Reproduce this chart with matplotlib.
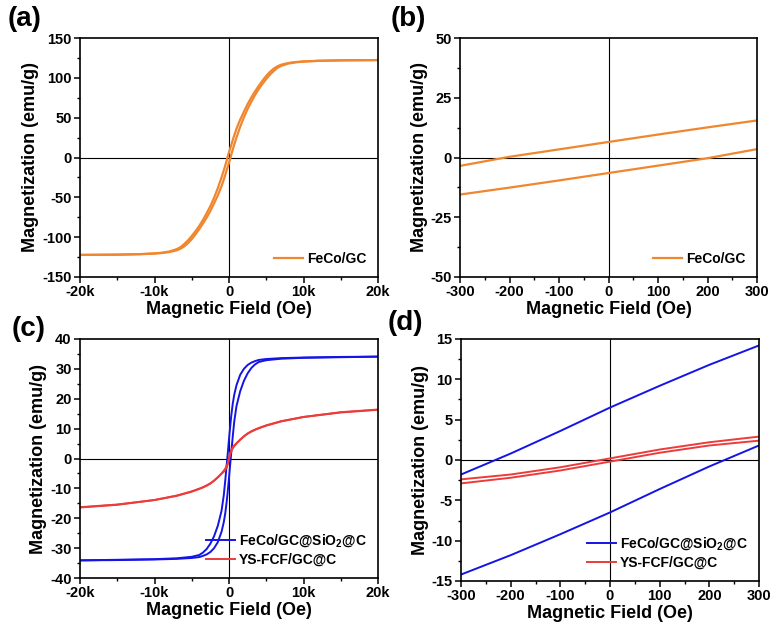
import matplotlib
matplotlib.use('Agg')
import matplotlib.pyplot as plt

plt.rcParams['font.family'] = ['Liberation Sans', 'DejaVu Sans']
plt.rcParams['font.weight'] = 'bold'
plt.rcParams['axes.unicode_minus'] = False
plt.rcParams['mathtext.fontset'] = 'custom'
plt.rcParams['mathtext.rm'] = 'Liberation Sans:bold'
plt.rcParams['mathtext.default'] = 'rm'

# FeCo/GC loop (a, b): field grid plus descending / ascending branches
feco_h = [-20000, -15000, -12000, -10000, -9000, -8000, -7000, -6500, -6000, -5500,
          -5000, -4500, -4000, -3500, -3000, -2500, -2000, -1500, -1000, -600,
          -300, -200, -100, 0, 100, 200, 300, 600, 1000, 1500, 2000, 2500, 3000,
          3500, 4000, 4500, 5000, 5500, 6000, 6500, 7000, 8000, 9000, 10000,
          12000, 15000, 20000]
feco_down = [-122.3, -121.9, -121.3, -120.4, -119.5, -118.0, -115.0, -112.5, -108.5, -104.0,
             -98.5, -92.5, -86.0, -78.5, -70.0, -61.0, -50.5, -38.5, -25.0, -13.0,
             -3.5, 0.3, 3.4, 6.5, 9.6, 12.6, 15.5, 24.8, 36.0, 47.5, 57.5, 67.0, 75.5,
             83.0, 90.0, 96.5, 102.5, 107.5, 111.5, 114.5, 116.5, 118.7, 119.9, 120.6,
             121.4, 122.0, 122.3]
feco_up = [-122.3, -122.0, -121.4, -120.6, -119.9, -118.7, -116.5, -114.5, -111.5, -107.5,
           -102.5, -96.5, -90.0, -83.0, -75.5, -67.0, -57.5, -47.5, -36.0, -24.8,
           -15.5, -12.6, -9.6, -6.5, -3.4, -0.3, 3.5, 13.0, 25.0, 38.5, 50.5, 61.0, 70.0,
           78.5, 86.0, 92.5, 98.5, 104.0, 108.5, 112.5, 115.0, 118.0, 119.5, 120.4,
           121.3, 121.9, 122.3]

# FeCo/GC@SiO2@C and YS-FCF/GC@C loops (c, d)
h2 = [-20000, -15000, -10000, -7000, -5000, -4000, -3500, -3000, -2500, -2000,
      -1500, -1000, -700, -500, -300, -200, -100, 0, 100, 200, 300, 500, 700,
      1000, 1500, 2000, 2500, 3000, 3500, 4000, 5000, 7000, 10000, 15000, 20000]
sio2_down = [-34.1, -33.9, -33.7, -33.4, -32.9, -32.3, -31.5, -30.3, -28.5, -26.0,
             -22.5, -17.5, -12.3, -7.3, -1.8, 0.8, 3.6, 6.5, 9.2, 11.8, 14.2, 18.3, 21.3,
             24.5, 28.0, 30.0, 31.3, 32.1, 32.6, 33.0, 33.3, 33.6, 33.8, 34.0, 34.1]
sio2_up = [-34.1, -34.0, -33.8, -33.6, -33.3, -33.0, -32.6, -32.1, -31.3, -30.0,
           -28.0, -24.5, -21.3, -18.3, -14.2, -11.8, -9.2, -6.5, -3.6, -0.8, 1.8, 7.3, 12.3,
           17.5, 22.5, 26.0, 28.5, 30.3, 31.5, 32.3, 32.9, 33.4, 33.7, 33.9, 34.1]
ys_down = [-16.4, -15.5, -13.9, -12.4, -11.0, -10.1, -9.6, -9.0, -8.3, -7.4,
           -6.3, -5.0, -4.1, -3.4, -2.4, -1.8, -0.9, 0.2, 1.3, 2.2, 2.9, 3.7, 4.4,
           5.1, 6.3, 7.4, 8.4, 9.1, 9.7, 10.2, 11.1, 12.5, 13.9, 15.4, 16.3]
ys_up = [-16.3, -15.4, -13.9, -12.5, -11.1, -10.2, -9.7, -9.1, -8.4, -7.4,
         -6.3, -5.1, -4.4, -3.7, -2.9, -2.2, -1.3, -0.2, 0.9, 1.8, 2.4, 3.4, 4.1,
         5.0, 6.3, 7.4, 8.3, 9.0, 9.6, 10.1, 11.0, 12.4, 13.9, 15.5, 16.4]

k_ticks = [-20000, -10000, 0, 10000, 20000]
k_labels = ['-20k', '-10k', '0', '10k', '20k']
small_ticks = [-300, -200, -100, 0, 100, 200, 300]

orange = '#F0862E'
blue = '#1414E6'
red = '#EC3B3B'

W, H = 772, 623
fig = plt.figure(figsize=(W / 100, H / 100), dpi=100)


def px_axes(l, t, r, b):
    return fig.add_axes([l / W, 1 - b / H, (r - l) / W, (b - t) / H])


def style(ax, xlim, ylim, xticks, xlabels, yticks, yminor, xminor):
    ax.set_xlim(xlim)
    ax.set_ylim(ylim)
    ax.set_xticks(xticks, xlabels, fontweight='bold', fontsize=10.5)
    ax.set_yticks(yticks, [str(v) for v in yticks], fontweight='bold', fontsize=10.5)
    ax.set_yticks(yminor, minor=True)
    ax.set_xticks(xminor, minor=True)
    ax.axhline(0, color='black', lw=0.8, zorder=1)
    ax.axvline(0, color='black', lw=0.8, zorder=1)
    for s in ax.spines.values():
        s.set_linewidth(1.2)
    ax.tick_params(which='major', direction='out', length=4, width=1.1, pad=2)
    ax.tick_params(which='minor', direction='out', length=2.5, width=1.0)
    ax.set_xlabel('Magnetic Field (Oe)', fontsize=13, fontweight='bold', labelpad=1)
    ax.set_ylabel('Magnetization (emu/g)', fontsize=13, fontweight='bold', labelpad=2)
    ax.legend(loc='lower right', frameon=False, prop={'size': 10, 'weight': 'bold'},
              handlelength=2.1, handletextpad=0.3, labelspacing=0.25, borderaxespad=0.4)


# (a)
ax = px_axes(80, 38, 378, 277)
ax.plot(feco_h, feco_down, color=orange, lw=1.6, label='FeCo/GC')
ax.plot(feco_h, feco_up, color=orange, lw=1.6)
style(ax, (-20000, 20000), (-150, 150), k_ticks, k_labels,
      [-150, -100, -50, 0, 50, 100, 150],
      [-125, -75, -25, 25, 75, 125], [-15000, -5000, 5000, 15000])

# (b)
ax = px_axes(460, 38, 757, 277)
ax.plot(feco_h, feco_down, color=orange, lw=1.6, label='FeCo/GC')
ax.plot(feco_h, feco_up, color=orange, lw=1.6)
style(ax, (-300, 300), (-50, 50), small_ticks, [str(v) for v in small_ticks],
      [-50, -25, 0, 25, 50],
      [-37.5, -12.5, 12.5, 37.5], [-250, -150, -50, 50, 150, 250])

# (c)
ax = px_axes(80, 339, 378, 578)
ax.plot(h2, sio2_down, color=blue, lw=1.4, label='FeCo/GC@SiO$_2$@C')
ax.plot(h2, sio2_up, color=blue, lw=1.4)
ax.plot(h2, ys_down, color=red, lw=1.4, label='YS-FCF/GC@C')
ax.plot(h2, ys_up, color=red, lw=1.4)
style(ax, (-20000, 20000), (-40, 40), k_ticks, k_labels,
      [-40, -30, -20, -10, 0, 10, 20, 30, 40],
      [-35, -25, -15, -5, 5, 15, 25, 35], [-15000, -5000, 5000, 15000])

# (d)
ax = px_axes(461, 339, 759, 581)
ax.plot(h2, sio2_down, color=blue, lw=1.4, label='FeCo/GC@SiO$_2$@C')
ax.plot(h2, sio2_up, color=blue, lw=1.4)
ax.plot(h2, ys_down, color=red, lw=1.4, label='YS-FCF/GC@C')
ax.plot(h2, ys_up, color=red, lw=1.4)
style(ax, (-300, 300), (-15, 15), small_ticks, [str(v) for v in small_ticks],
      [-15, -10, -5, 0, 5, 10, 15],
      [-12.5, -7.5, -2.5, 2.5, 7.5, 12.5], [-250, -150, -50, 50, 150, 250])

for lab, x, y in [('(a)', 8, 6), ('(b)', 391, 6), ('(c)', 12, 316), ('(d)', 388, 310)]:
    fig.text(x / W, 1 - y / H, lab, fontsize=20, fontweight='bold', va='top', ha='left')

fig.savefig('out.png', dpi=100)
